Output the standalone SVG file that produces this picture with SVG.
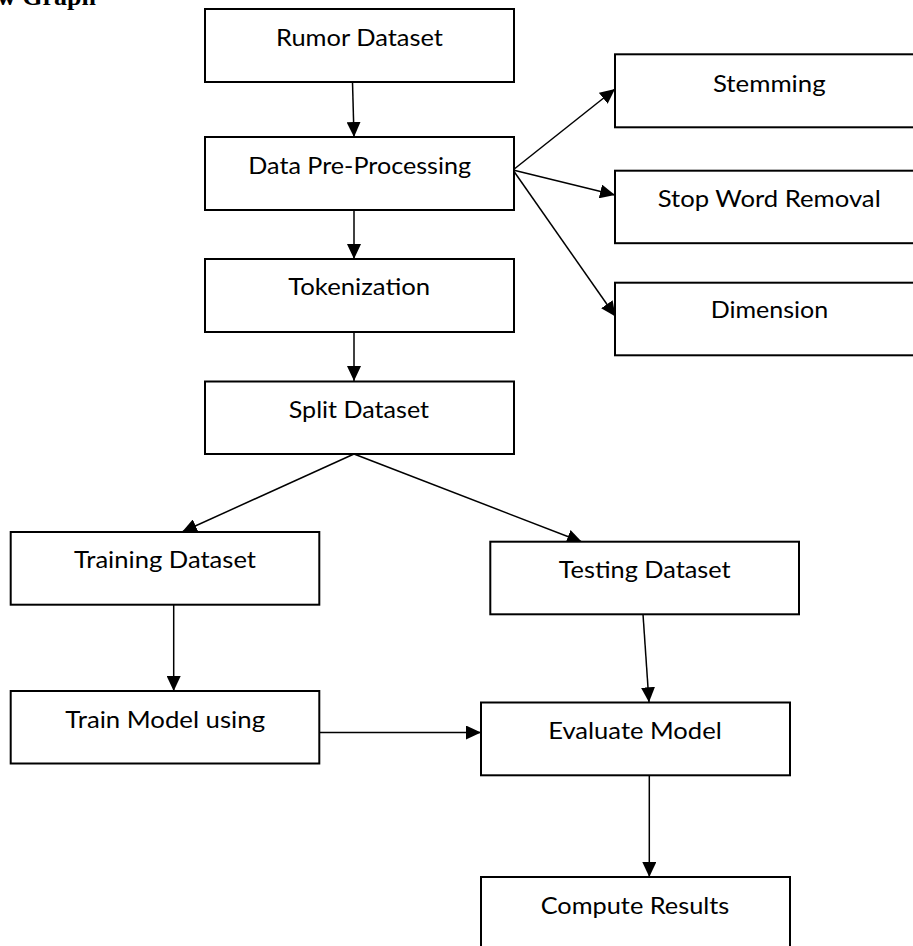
<svg xmlns="http://www.w3.org/2000/svg" width="913" height="946" viewBox="0 0 913 946">
<style>
  .box { fill: #ffffff; stroke: #000000; stroke-width: 2; }
  .lbl { font-family: Lato, "Open Sans", "Liberation Sans", sans-serif; font-size: 24px; fill: #000000; text-anchor: middle; }
  .title { font-family: "Liberation Serif", serif; font-weight: bold; font-size: 26px; fill: #000000; }
  .edge { stroke: #000000; stroke-width: 1.5; fill: none; marker-end: url(#arrow); }
</style>
<defs>
  <marker id="arrow" markerUnits="userSpaceOnUse" markerWidth="15" markerHeight="14" refX="15" refY="7" orient="auto">
    <path d="M0,0 L15,7 L0,14 Z" fill="#000000"/>
  </marker>
</defs>
<rect width="913" height="946" fill="#ffffff"/>
<text class="title" x="-3" y="5">w Graph</text>

<g id="connectors">
  <line class="edge" x1="352.5" y1="82" x2="354" y2="137"/>
  <line class="edge" x1="354" y1="210" x2="354" y2="259"/>
  <line class="edge" x1="354" y1="332" x2="354" y2="381"/>
  <line class="edge" x1="513" y1="170" x2="615" y2="89"/>
  <line class="edge" x1="513" y1="170" x2="615" y2="195"/>
  <line class="edge" x1="513" y1="170" x2="615.5" y2="316.5"/>
  <line class="edge" x1="354" y1="454" x2="182" y2="532"/>
  <line class="edge" x1="354" y1="454" x2="582" y2="542"/>
  <line class="edge" x1="173.7" y1="604.7" x2="173.7" y2="691"/>
  <line class="edge" x1="643" y1="614.3" x2="649" y2="702.3"/>
  <line class="edge" x1="319.3" y1="732.5" x2="481" y2="732.5"/>
  <line class="edge" x1="649.3" y1="775.3" x2="649.3" y2="877"/>
</g>

<g id="rumor-dataset">
  <rect class="box" x="205" y="9" width="309" height="73"/>
  <text class="lbl" x="359.5" y="46" textLength="167" lengthAdjust="spacingAndGlyphs">Rumor Dataset</text>
</g>
<g id="data-preprocessing">
  <rect class="box" x="205" y="137" width="309" height="73"/>
  <text class="lbl" x="359.7" y="174" textLength="222.7" lengthAdjust="spacingAndGlyphs">Data Pre-Processing</text>
</g>
<g id="tokenization">
  <rect class="box" x="205" y="259" width="309" height="73"/>
  <text class="lbl" x="359.2" y="295" textLength="142" lengthAdjust="spacingAndGlyphs">Tokenization</text>
</g>
<g id="split-dataset">
  <rect class="box" x="205" y="381.5" width="309" height="72.5"/>
  <text class="lbl" x="358.9" y="418.3" textLength="140.3" lengthAdjust="spacingAndGlyphs">Split Dataset</text>
</g>
<g id="stemming">
  <rect class="box" x="615" y="54.3" width="308" height="73"/>
  <text class="lbl" x="769.3" y="91.5" textLength="112.7" lengthAdjust="spacingAndGlyphs">Stemming</text>
</g>
<g id="stop-word-removal">
  <rect class="box" x="615" y="170.7" width="308" height="72.5"/>
  <text class="lbl" x="769.2" y="206.7" textLength="223" lengthAdjust="spacingAndGlyphs">Stop Word Removal</text>
</g>
<g id="dimension">
  <rect class="box" x="615" y="282.7" width="308" height="72.6"/>
  <text class="lbl" x="769.5" y="318.3" textLength="117.6" lengthAdjust="spacingAndGlyphs">Dimension</text>
</g>
<g id="training-dataset">
  <rect class="box" x="10.7" y="532" width="308.6" height="72.7"/>
  <text class="lbl" x="165" y="568" textLength="182" lengthAdjust="spacingAndGlyphs">Training Dataset</text>
</g>
<g id="testing-dataset">
  <rect class="box" x="490.3" y="541.7" width="308.7" height="72.6"/>
  <text class="lbl" x="644.7" y="578.3" textLength="172" lengthAdjust="spacingAndGlyphs">Testing Dataset</text>
</g>
<g id="train-model">
  <rect class="box" x="10.7" y="691" width="308.6" height="72.5"/>
  <text class="lbl" x="165.2" y="727.5" textLength="199.7" lengthAdjust="spacingAndGlyphs">Train Model using</text>
</g>
<g id="evaluate-model">
  <rect class="box" x="481" y="702.5" width="309" height="72.8"/>
  <text class="lbl" x="635" y="739.3" textLength="173.4" lengthAdjust="spacingAndGlyphs">Evaluate Model</text>
</g>
<g id="compute-results">
  <rect class="box" x="481" y="877" width="309" height="73"/>
  <text class="lbl" x="635" y="913.5" textLength="188.6" lengthAdjust="spacingAndGlyphs">Compute Results</text>
</g>
</svg>
